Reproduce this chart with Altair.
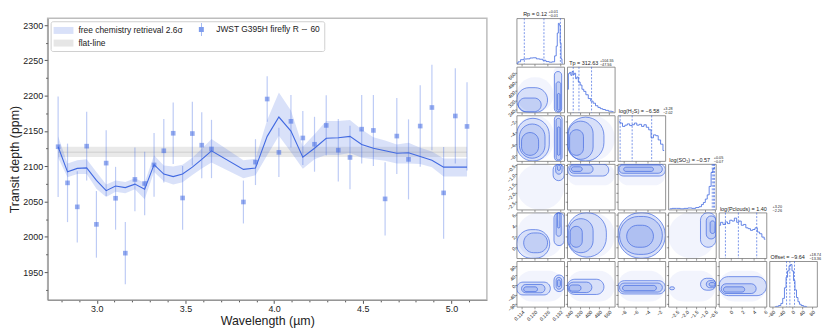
import altair as alt
import pandas as pd

FONT = "Liberation Sans"
BLUE = "#4169e1"

# ---------------- spectrum data ----------------
wavelength = [2.782, 2.835, 2.890, 2.943, 2.998, 3.053, 3.106, 3.161, 3.215, 3.270,
              3.323, 3.378, 3.431, 3.484, 3.539, 3.592, 3.647, 3.827, 3.895, 3.961,
              4.027, 4.095, 4.162, 4.228, 4.294, 4.362, 4.428, 4.494, 4.560, 4.626,
              4.692, 4.758, 4.824, 4.890, 4.956, 5.022, 5.088]
depth = [2127.7, 2076.5, 2042.5, 2128.5, 2017.7, 2104.5, 2054.7, 1976.9, 2081.4, 2075.6,
         2101.9, 2122.0, 2146.8, 2055.1, 2146.4, 2129.9, 2124.5, 2049.4, 2105.9, 2195.3,
         2119.7, 2163.7, 2140.1, 2131.2, 2157.9, 2122.8, 2112.5, 2152.6, 2150.8, 2053.8,
         2142.8, 2109.8, 2157.0, 2183.3, 2062.3, 2171.3, 2156.5]
depth_err = [71.3, 55.6, 50.5, 48.8, 47.2, 46.7, 44.5, 44.1, 45.2, 45.0,
             45.2, 45.0, 43.4, 45.2, 45.2, 46.8, 41.3, 30.4, 32.5, 32.3,
             35.0, 37.2, 38.3, 38.9, 42.7, 44.2, 45.0, 48.5, 50.3, 51.9,
             53.8, 56.7, 57.8, 60.6, 65.0, 67.5, 62.5]
model_depth = [2127.7, 2092.1, 2097.0, 2097.8, 2080.0, 2065.4, 2072.0, 2069.8, 2074.7, 2067.6,
               2102.3, 2089.0, 2085.4, 2089.0, 2098.8, 2109.8, 2121.9, 2095.6, 2097.4, 2142.4,
               2169.8, 2149.9, 2113.0, 2125.5, 2139.7, 2140.5, 2142.4, 2130.8, 2125.5, 2121.9,
               2118.4, 2119.2, 2113.9, 2108.5, 2098.8, 2098.8, 2098.8]
model_hi = [2142.4, 2104.1, 2108.5, 2109.8, 2092.0, 2074.3, 2080.0, 2077.8, 2083.0, 2076.5,
            2115.7, 2101.0, 2099.7, 2102.3, 2112.0, 2125.0, 2138.8, 2108.5, 2110.8, 2165.5,
            2204.7, 2178.9, 2127.7, 2145.5, 2164.2, 2164.2, 2165.5, 2152.2, 2141.0, 2136.5,
            2130.8, 2133.5, 2126.4, 2121.0, 2111.2, 2111.2, 2111.2]
model_lo = [2112.0, 2084.5, 2089.0, 2089.0, 2068.0, 2056.4, 2064.0, 2061.8, 2067.6, 2053.4,
            2092.0, 2078.7, 2074.3, 2077.4, 2087.6, 2097.0, 2105.4, 2083.0, 2087.2, 2115.7,
            2143.2, 2120.1, 2096.5, 2109.8, 2116.5, 2116.0, 2118.8, 2112.0, 2109.8, 2107.7,
            2104.1, 2104.1, 2103.2, 2098.8, 2085.4, 2085.4, 2085.4]
flat_x = [2.782, 5.088]
flat_band = [2113.0, 2127.7]
flat_level = 2120.0

x_ticks = [2.8, 2.9, 3.0, 3.1, 3.2, 3.3, 3.4, 3.5, 3.6, 3.7, 3.8, 3.9, 4.0, 4.1, 4.2,
           4.3, 4.4, 4.5, 4.6, 4.7, 4.8, 4.9, 5.0, 5.1]
y_ticks = [1925, 1950, 1975, 2000, 2025, 2050, 2075, 2100, 2125, 2150, 2175, 2200,
           2225, 2250, 2275, 2300]

# legend entries, column-major order: (col 1: retrieval, flat-line) (col 2: data)
legend_names = ["free chemistry retrieval 2.6σ", "flat-line", "JWST G395H firefly R ∼ 60"]
legend_colors = ["#d9e1f9", "#e6e6e6", "#7e9ced"]
legend_shapes = ["M-1,-0.7H3V0.7H-1Z",
                 "M-1,-0.7H3V0.7H-1Z",
                 "M0.5,-0.5H1.5V0.5H0.5Z M0.93,-1.3H1.07V1.3H0.93Z"]

# ---------------- corner plot data ----------------
params = ["Rp", "Tp", "H2S", "SO2", "Pc", "Off"]
domains = {"Rp": [0.1117, 0.1340], "Tp": [215, 610], "H2S": [-9, -1],
           "SO2": [-2.92, -0.45], "Pc": [-2, 6.3], "Off": [-92, 100]}
ticks = {"Rp": [0.114, 0.120, 0.126, 0.132], "Tp": [240, 320, 400, 480, 560],
         "H2S": [-8, -6, -4, -2], "SO2": [-2.5, -2.0, -1.5, -1.0, -0.5],
         "Pc": [0, 2, 4, 6], "Off": [-80, -40, 0, 40, 80]}
formats = {"Rp": ".3f", "Tp": "d", "H2S": "d", "SO2": ".1f", "Pc": "d", "Off": "d"}

hist_rp_x = [0.1118, 0.1130, 0.1141, 0.1157, 0.1172, 0.1187, 0.1202, 0.1217, 0.1232, 0.1247,
             0.1262, 0.1277, 0.1290, 0.1300, 0.1305, 0.1310, 0.1315, 0.1319, 0.1323, 0.1327, 0.1332]
hist_rp_h = [0.015, 0.05, 0.10, 0.115, 0.12, 0.14, 0.145, 0.12, 0.11, 0.085,
             0.055, 0.04, 0.05, 0.19, 0.42, 0.73, 0.96, 0.92, 0.5, 0.12, 0.015]
hist_tp_x = [220, 230, 240, 250, 260, 270, 280, 290, 300, 315, 330, 345, 360, 380, 400,
             420, 440, 460, 480, 500, 520, 545, 570, 600]
hist_tp_h = [0.55, 0.92, 0.95, 0.88, 0.97, 0.90, 0.93, 0.80, 0.84, 0.72, 0.65, 0.55, 0.50,
             0.42, 0.33, 0.27, 0.22, 0.16, 0.12, 0.09, 0.07, 0.05, 0.03, 0.02]
hist_h2s_x = [-8.8, -8.4, -8.0, -7.6, -7.2, -6.8, -6.4, -6.0, -5.6, -5.2, -4.8, -4.4, -4.0,
              -3.6, -3.2, -2.8, -2.4, -2.0, -1.6, -1.2]
hist_h2s_h = [0.93, 0.90, 0.82, 0.85, 0.88, 0.84, 0.86, 0.90, 0.85, 0.87, 0.82, 0.86, 0.80,
              0.74, 0.55, 0.62, 0.60, 0.50, 0.40, 0.25]
hist_so2_x = [-2.85, -2.6, -2.4, -2.2, -2.0, -1.8, -1.6, -1.4, -1.25, -1.15, -1.05, -0.95,
              -0.85, -0.75, -0.65, -0.57, -0.5]
hist_so2_h = [0.02, 0.03, 0.03, 0.02, 0.03, 0.04, 0.03, 0.05, 0.07, 0.12, 0.17, 0.25,
              0.35, 0.55, 0.88, 0.97, 1.0]
hist_pc_x = [-1.9, -1.5, -1.1, -0.7, -0.3, 0.1, 0.5, 0.9, 1.3, 1.7, 2.1, 2.5, 2.9, 3.3,
             3.7, 4.1, 4.5, 4.9, 5.3, 5.7, 6.1]
hist_pc_h = [0.78, 0.85, 0.80, 0.86, 0.82, 0.90, 0.88, 0.95, 0.85, 0.88, 0.78, 0.80, 0.72,
             0.70, 0.66, 0.68, 0.72, 0.62, 0.58, 0.50, 0.45]
hist_off_x = [-70, -60, -50, -42, -35, -28, -22, -16, -10, -4, 2, 8, 14, 20, 26, 32, 40, 50, 60]
hist_off_h = [0.0, 0.01, 0.03, 0.08, 0.2, 0.45, 0.7, 0.85, 0.97, 1.0, 0.85, 0.62, 0.4,
              0.22, 0.12, 0.06, 0.03, 0.01, 0.0]

hists = {"Rp": (hist_rp_x, hist_rp_h), "Tp": (hist_tp_x, hist_tp_h),
         "H2S": (hist_h2s_x, hist_h2s_h), "SO2": (hist_so2_x, hist_so2_h),
         "Pc": (hist_pc_x, hist_pc_h), "Off": (hist_off_x, hist_off_h)}

quant_rp = [0.1153, 0.1245, 0.1322]
quant_tp = [265.1, 312.63, 417.18]
quant_h2s = [-8.6, -6.58, -3.3]
quant_so2 = [-0.64, -0.57, -0.52]
quant_pc = [-0.86, 1.40, 4.60]
quant_off = [-23.0, -9.64, 9.1]
quants = {"Rp": quant_rp, "Tp": quant_tp, "H2S": quant_h2s, "SO2": quant_so2,
          "Pc": quant_pc, "Off": quant_off}

titles = {"Rp": ("Rp = 0.12", "+0.01", "−0.01"),
          "Tp": ("Tp = 312.63", "+104.55", "−47.56"),
          "H2S": ("log(H₂S) = −6.58", "+3.28", "−2.02"),
          "SO2": ("log(SO₂) = −0.57", "+0.05", "−0.07"),
          "Pc": ("log(Pclouds) = 1.40", "+3.20", "−2.26"),
          "Off": ("Offset = −9.64", "+18.74", "−13.36")}

# contour blobs: (x1, x2, y1, y2, level)  level 0 = faint sample cloud
blobs_tp_rp = [(0.1117, 0.1290, 215, 520, 0), (0.1290, 0.1340, 215, 610, 0),
               (0.1117, 0.1262, 215, 430, 1), (0.1125, 0.1232, 222, 340, 2),
               (0.1294, 0.1328, 215, 570, 1), (0.1302, 0.1324, 222, 480, 2), (0.1308, 0.1320, 235, 380, 3)]
blobs_h2s_rp = [(0.1117, 0.1290, -9, -1, 0), (0.1290, 0.1340, -9, -1, 0),
                (0.1117, 0.1270, -9, -1.5, 1), (0.1130, 0.1250, -8.5, -2.5, 2), (0.1140, 0.1220, -8, -4, 3),
                (0.1294, 0.1330, -9, -1, 1), (0.1302, 0.1324, -8.8, -1.5, 2), (0.1308, 0.1320, -8, -3, 3)]
blobs_h2s_tp = [(215, 610, -9, -1, 0), (215, 520, -9, -1.3, 1), (225, 430, -8.7, -2, 2), (235, 350, -8, -3.5, 3)]
blobs_so2_rp = [(0.1117, 0.1340, -2.92, -0.45, 0), (0.1288, 0.1340, -1.35, -0.45, 1),
                (0.1300, 0.1330, -1.0, -0.45, 2), (0.1308, 0.1322, -0.8, -0.5, 3)]
blobs_so2_tp = [(215, 610, -1.6, -0.45, 0), (220, 560, -1.1, -0.45, 1), (235, 430, -0.95, -0.5, 2),
                (250, 340, -0.85, -0.6, 3)]
blobs_so2_h2s = [(-9, -1, -1.6, -0.45, 0), (-9, -1, -1.1, -0.45, 1), (-8.8, -1.5, -0.95, -0.5, 2),
                 (-8, -3, -0.85, -0.62, 3)]
blobs_pc_rp = [(0.1117, 0.1340, -2, 6.3, 0), (0.1117, 0.1272, -2, 3.2, 1), (0.1150, 0.1262, -1, 2.6, 2),
               (0.1292, 0.1340, 0.3, 6.3, 1), (0.1302, 0.1326, 2, 6.3, 2), (0.1308, 0.1320, 3.5, 6.3, 3)]
blobs_pc_tp = [(215, 610, -2, 6.3, 0), (215, 540, -1.8, 6.3, 1), (228, 430, -1, 5.2, 2), (240, 340, 0, 3.8, 3)]
blobs_pc_h2s = [(-9, -1, -2, 6.3, 0), (-9, -1, -2, 6.3, 1), (-8.7, -1.5, -1.3, 5.6, 2), (-7.5, -3, 0, 4, 3)]
blobs_pc_so2 = [(-2.92, -0.45, -2, 6.3, 0), (-1.25, -0.45, 0, 6.3, 1), (-0.95, -0.45, 1.5, 5.7, 2),
                (-0.75, -0.5, 2.5, 4.8, 3)]
blobs_off_rp = [(0.1117, 0.1340, -70, 60, 0), (0.1117, 0.1275, -42, 12, 1), (0.1140, 0.1250, -33, 2, 2),
                (0.1150, 0.1215, -28, -8, 3), (0.1292, 0.1340, -28, 42, 1), (0.1302, 0.1328, -18, 32, 2),
                (0.1308, 0.1322, -8, 22, 3)]
blobs_off_tp = [(215, 610, -70, 60, 0), (215, 520, -40, 24, 1), (222, 420, -32, 12, 2), (232, 330, -26, 0, 3)]
blobs_off_h2s = [(-9, -1, -70, 60, 0), (-9, -1, -38, 18, 1), (-8.7, -1.5, -30, 8, 2), (-8.2, -2.5, -24, -2, 3)]
blobs_off_so2 = [(-2.92, -0.45, -70, 60, 0), (-1.25, -0.45, -22, 28, 1), (-0.95, -0.45, -12, 18, 2),
                 (-0.8, -0.5, -5, 10, 3), (-2.85, -2.6, -20, -8, 1)]
blobs_off_pc = [(-2, 6.3, -70, 60, 0), (-2, 6.3, -45, 35, 1), (-1.6, 4.5, -36, 5, 2), (-1.2, 2.5, -30, -8, 3)]

blobs = {(1, 0): blobs_tp_rp, (2, 0): blobs_h2s_rp, (2, 1): blobs_h2s_tp,
         (3, 0): blobs_so2_rp, (3, 1): blobs_so2_tp, (3, 2): blobs_so2_h2s,
         (4, 0): blobs_pc_rp, (4, 1): blobs_pc_tp, (4, 2): blobs_pc_h2s, (4, 3): blobs_pc_so2,
         (5, 0): blobs_off_rp, (5, 1): blobs_off_tp, (5, 2): blobs_off_h2s, (5, 3): blobs_off_so2,
         (5, 4): blobs_off_pc}

# ---------------- left spectrum chart ----------------
spec_df = pd.DataFrame({"wl": wavelength, "depth": depth,
                        "lo": [d - e for d, e in zip(depth, depth_err)],
                        "hi": [d + e for d, e in zip(depth, depth_err)]})
mod_df = pd.DataFrame({"wl": wavelength, "model": model_depth, "lo": model_lo, "hi": model_hi})
flat_df = pd.DataFrame({"x1": [flat_x[0]], "x2": [flat_x[1]], "y1": [flat_band[0]],
                        "y2": [flat_band[1]], "ym": [flat_level]})
leg_df = pd.DataFrame({"series": legend_names, "wl": [2.0] * 3, "depth": [2000.0] * 3})

xs = alt.Scale(domain=[2.723, 5.2], nice=False, zero=False)
ys = alt.Scale(domain=[1910.7, 2309.7], nice=False, zero=False)
major_x = "abs(datum.value*2 - round(datum.value*2)) < 0.001"
major_y = "datum.value % 50 == 0"
x_axis = alt.Axis(values=x_ticks, title="Wavelength (µm)",
                  labelExpr=f"{major_x} ? format(datum.value, '.1f') : ''",
                  tickSize={"condition": {"test": major_x, "value": 3.5}, "value": 2},
                  labelFontSize=9, titleFontSize=12.5, labelPadding=1, titlePadding=1,
                  grid=False, domainColor="#8a8a8a", tickColor="#555", labelColor="#222",
                  titleColor="#222", titleFontWeight="normal", labelFlush=False)
y_axis = alt.Axis(values=y_ticks, title="Transit depth (ppm)",
                  labelExpr=f"{major_y} ? format(datum.value, 'd') : ''",
                  tickSize={"condition": {"test": major_y, "value": 3.5}, "value": 2},
                  labelFontSize=9, titleFontSize=12.5, labelPadding=1.5, titlePadding=1,
                  grid=False, domainColor="#8a8a8a", tickColor="#555", labelColor="#222",
                  titleColor="#222", titleFontWeight="normal")

X = lambda f: alt.X(f, scale=xs, axis=x_axis)
Y = lambda f: alt.Y(f, scale=ys, axis=y_axis)

flat_rect = alt.Chart(flat_df).mark_rect(color="#c4c4c4", opacity=0.38).encode(
    x=X("x1:Q"), x2="x2:Q", y=Y("y1:Q"), y2="y2:Q")
flat_rule = alt.Chart(flat_df).mark_rule(color="#bdbdbd", opacity=0.6, strokeWidth=1).encode(
    x=X("x1:Q"), x2="x2:Q", y=Y("ym:Q"))
band = alt.Chart(mod_df).mark_area(color=BLUE, opacity=0.2).encode(
    x=X("wl:Q"), y=Y("lo:Q"), y2="hi:Q")
line = alt.Chart(mod_df).mark_line(color=BLUE, strokeWidth=1.1).encode(
    x=X("wl:Q"), y=Y("model:Q"))
errs = alt.Chart(spec_df).mark_rule(color=BLUE, opacity=0.35, strokeWidth=1.2).encode(
    x=X("wl:Q"), y=Y("lo:Q"), y2="hi:Q")
pts = alt.Chart(spec_df).mark_point(shape="square", filled=True, size=22, color=BLUE, opacity=0.55).encode(
    x=X("wl:Q"), y=Y("depth:Q"))

leg_props = dict(title=None, orient="none", legendX=3, legendY=3, columns=2, symbolSize=100,
                 symbolStrokeWidth=0, labelFont=FONT, labelFontSize=8.5, labelColor="#222",
                 labelOffset=15, columnPadding=8, rowPadding=2, padding=3,
                 fillColor="#ffffff", strokeColor="#cfcfcf", cornerRadius=2, symbolOpacity=1)
leg = alt.Chart(leg_df).mark_point(filled=True, size=100, opacity=1, clip=True).encode(
    x=X("wl:Q"), y=Y("depth:Q"),
    color=alt.Color("series:N", scale=alt.Scale(domain=legend_names, range=legend_colors),
                    legend=alt.Legend(**leg_props)),
    shape=alt.Shape("series:N", scale=alt.Scale(domain=legend_names, range=legend_shapes),
                    legend=alt.Legend(**leg_props)))

left = alt.layer(flat_rect, flat_rule, band, line, errs, pts, leg).properties(
    width=443, height=284, view=alt.ViewBackground(stroke="#bdbdbd", strokeWidth=1.5))

# ---------------- corner plot ----------------
PW, PH = 48, 46


def corner_axis(p, show):
    return alt.Axis(values=ticks[p], labels=show, format=formats[p], labelAngle=315,
                    labelFontSize=5, labelFont=FONT, labelPadding=0.5, labelColor="#222",
                    tickSize=2, tickWidth=0.5, tickColor="#333", domain=False, grid=False,
                    title=None, labelFlush=False, labelOverlap=False)


def diag_panel(i):
    p = params[i]
    hx, hh = hists[p]
    sc = alt.Scale(domain=domains[p], nice=False, zero=False)
    xa = corner_axis(p, i == 5)
    hdf = pd.DataFrame({"v": hx, "h": hh})
    hist = alt.Chart(hdf).mark_line(interpolate="step", color=BLUE, strokeWidth=0.8, clip=True).encode(
        x=alt.X("v:Q", scale=sc, axis=xa),
        y=alt.Y("h:Q", scale=alt.Scale(domain=[0, 1.08]), axis=None))
    qdf = pd.DataFrame({"v": quants[p]})
    qr = alt.Chart(qdf).mark_rule(color=BLUE, strokeDash=[2, 1.5], strokeWidth=0.7).encode(
        x=alt.X("v:Q", scale=sc, axis=xa))
    main, sup, sub = titles[p]
    main_w = 0.5 * 5.5 * len(main)
    sup_w = 0.5 * 3.8 * max(len(sup), len(sub))
    start = max(1.0, (PW - main_w - sup_w - 0.5) / 2)
    tdf = pd.DataFrame({"t": [main], "s": [sup], "b": [sub]})
    t_main = alt.Chart(tdf).mark_text(align="left", baseline="bottom", fontSize=5.5, font=FONT,
                                      color="#222").encode(
        text="t:N", x=alt.value(start), y=alt.value(-1))
    t_sup = alt.Chart(tdf).mark_text(align="left", baseline="bottom", fontSize=3.8, font=FONT,
                                     color="#222").encode(
        text="s:N", x=alt.value(start + main_w + 0.8), y=alt.value(-4))
    t_sub = alt.Chart(tdf).mark_text(align="left", baseline="top", fontSize=3.8, font=FONT,
                                     color="#222").encode(
        text="b:N", x=alt.value(start + main_w + 0.8), y=alt.value(-4))
    return alt.layer(hist, qr, t_main, t_sup, t_sub).properties(
        width=PW, height=PH, view=alt.ViewBackground(stroke="#777", strokeWidth=0.8))


def off_panel(i, j):
    px, py = params[j], params[i]
    rows = blobs[(i, j)]
    bdf = pd.DataFrame(rows, columns=["x1", "x2", "y1", "y2", "lvl"])
    bdf["fo"] = [0.07 if l == 0 else 0.14 for l in bdf["lvl"]]
    bdf["so"] = [0.0 if l == 0 else 1.0 for l in bdf["lvl"]]
    rect = alt.Chart(bdf).mark_rect(cornerRadius=40, clip=True, color=BLUE, stroke=BLUE,
                                    strokeWidth=0.7).encode(
        x=alt.X("x1:Q", scale=alt.Scale(domain=domains[px], nice=False, zero=False),
                axis=corner_axis(px, i == 5)),
        x2="x2:Q",
        y=alt.Y("y1:Q", scale=alt.Scale(domain=domains[py], nice=False, zero=False),
                axis=corner_axis(py, j == 0)),
        y2="y2:Q",
        fillOpacity=alt.FillOpacity("fo:Q", scale=None),
        strokeOpacity=alt.StrokeOpacity("so:Q", scale=None))
    return rect.properties(width=PW, height=PH,
                           view=alt.ViewBackground(stroke="#777", strokeWidth=0.8))


def blank_panel():
    return alt.Chart(pd.DataFrame({"a": [0]})).mark_point(opacity=0).encode(
        x=alt.value(0), y=alt.value(0)).properties(
        width=PW, height=PH, view=alt.ViewBackground(strokeOpacity=0, fillOpacity=0))


cells = []
for i in range(6):
    for j in range(6):
        if j < i:
            cells.append(off_panel(i, j))
        elif j == i:
            cells.append(diag_panel(i))
        else:
            cells.append(blank_panel())
corner = alt.concat(*cells, columns=6, spacing=3, bounds="flush")

chart = alt.hconcat(left, corner, spacing=17).properties(padding=0).configure(font=FONT)

chart.save("out.html", embed_options={"renderer": "svg", "actions": False})
